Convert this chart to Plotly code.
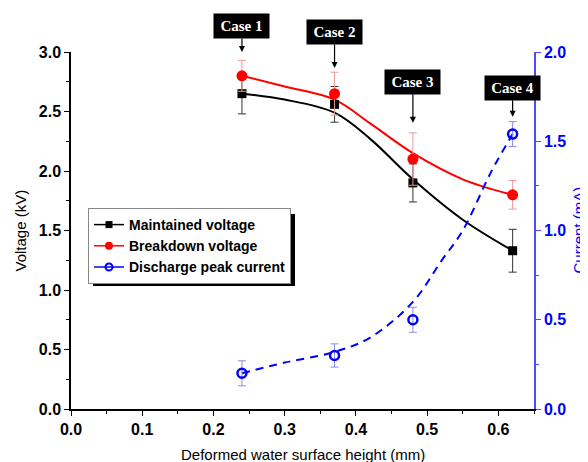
import plotly.graph_objects as go

# ---- data ----
height = [0.24, 0.37, 0.48, 0.62]
maintained = [2.65, 2.56, 1.90, 1.33]
maintained_err = [0.17, 0.15, 0.16, 0.18]
breakdown = [2.80, 2.65, 2.10, 1.80]
breakdown_err = [0.13, 0.18, 0.22, 0.12]
current = [0.20, 0.30, 0.50, 1.54]
current_err = [0.07, 0.065, 0.07, 0.07]

# fitted curves
fit_x = [0.24, 0.30, 0.37, 0.42, 0.48, 0.55, 0.62]
maintained_fit = [2.65, 2.60, 2.49, 2.27, 1.93, 1.59, 1.33]
breakdown_fit = [2.80, 2.71, 2.60, 2.40, 2.15, 1.93, 1.80]
cur_fit_x = [0.24, 0.30, 0.37, 0.42, 0.48, 0.52, 0.55, 0.59, 0.62]
current_fit = [0.20, 0.26, 0.32, 0.40, 0.60, 0.83, 1.00, 1.33, 1.54]

case_labels = ["Case 1", "Case 2", "Case 3", "Case 4"]
case_tip_y = [3.0, 2.866, 2.406, 2.456]
case_offset = [-26, -36, -41, -29]

BLUE = "#0000ff"

fig = go.Figure()

# fit curves
fig.add_trace(go.Scatter(x=fit_x, y=maintained_fit, mode="lines", line=dict(color="black", width=2, shape="spline"),
                         showlegend=False, hoverinfo="skip"))
fig.add_trace(go.Scatter(x=fit_x, y=breakdown_fit, mode="lines", line=dict(color="red", width=2, shape="spline"),
                         showlegend=False, hoverinfo="skip"))
fig.add_trace(go.Scatter(x=cur_fit_x, y=current_fit, mode="lines", yaxis="y2",
                         line=dict(color=BLUE, width=2, shape="spline", dash="8px,6px"),
                         showlegend=False, hoverinfo="skip"))

# data points
fig.add_trace(go.Scatter(x=height, y=maintained, mode="markers",
                         marker=dict(symbol="square", color="black", size=9),
                         error_y=dict(type="data", array=maintained_err, color="#333333", thickness=1, width=4),
                         showlegend=False))
fig.add_trace(go.Scatter(x=height, y=breakdown, mode="markers",
                         marker=dict(symbol="circle", color="red", size=11),
                         error_y=dict(type="data", array=breakdown_err, color="#e89a9a", thickness=1, width=4),
                         showlegend=False))
fig.add_trace(go.Scatter(x=height, y=current, mode="markers", yaxis="y2",
                         marker=dict(symbol="circle-open", color=BLUE, size=9, line=dict(width=2.5, color=BLUE)),
                         error_y=dict(type="data", array=current_err, color="#8a8ae0", thickness=1, width=4),
                         showlegend=False))

# legend entries
fig.add_trace(go.Scatter(x=[None], y=[None], mode="lines+markers", name="Maintained voltage",
                         line=dict(color="black", width=1.5), marker=dict(symbol="square", color="black", size=7)))
fig.add_trace(go.Scatter(x=[None], y=[None], mode="lines+markers", name="Breakdown voltage",
                         line=dict(color="red", width=1.5), marker=dict(symbol="circle", color="red", size=8)))
fig.add_trace(go.Scatter(x=[None], y=[None], mode="lines+markers", name="Discharge peak current", yaxis="y2",
                         line=dict(color=BLUE, width=1.5),
                         marker=dict(symbol="circle-open", color=BLUE, size=7, line=dict(width=2, color=BLUE))))

# the page has an 8px body margin: figure pixel = window pixel - 8
OFF = 8
W, H = 588 - OFF, 462 - OFF
L, R, T, B = 71 - OFF, 54, 52 - OFF, 53
pw, ph = W - L - R, H - T - B


def px(x):
    return (x - OFF - L) / pw


def py(y):
    return (H - B - (y - OFF)) / ph


annotations = []
for lab, hx, ty, off in zip(case_labels, height, case_tip_y, case_offset):
    annotations.append(dict(x=hx, y=ty, xref="x", yref="y", text="<b>" + lab + "</b>",
                            showarrow=True, ax=0, ay=off, arrowhead=2, arrowsize=1, arrowwidth=1.2,
                            arrowcolor="black", bgcolor="black", borderpad=4, width=47,
                            font=dict(family="Liberation Serif", size=15, color="white")))

# axis titles
annotations.append(dict(x=0.5, y=py(454), xref="paper", yref="paper", text="Deformed water surface height (mm)",
                        showarrow=False, xanchor="center", yanchor="middle",
                        font=dict(family="Arial", size=15, color="black")))
annotations.append(dict(x=px(20), y=0.5, xref="paper", yref="paper", text="Voltage (kV)", textangle=-90,
                        showarrow=False, xanchor="center", yanchor="middle",
                        font=dict(family="Arial", size=15, color="black")))
annotations.append(dict(x=px(578), y=0.5, xref="paper", yref="paper", text="Current (mA)", textangle=-90,
                        showarrow=False, xanchor="center", yanchor="middle",
                        font=dict(family="Arial", size=15, color=BLUE)))

# legend shadow
shapes = [dict(type="rect", xref="paper", yref="paper",
               x0=px(93), x1=px(295), y0=py(286), y1=py(214),
               fillcolor="black", line=dict(width=0), layer="above")]

fig.update_layout(
    width=W, height=H,
    margin=dict(l=L, r=R, t=T, b=B),
    paper_bgcolor="white", plot_bgcolor="white",
    font=dict(family="Arial", size=15, color="black"),
    showlegend=True,
    legend=dict(x=px(88), y=py(208), xanchor="left", yanchor="top",
                bgcolor="white", bordercolor="#888888", borderwidth=1,
                font=dict(family="Arial", size=14, color="black", weight="bold"),
                tracegroupgap=0, itemwidth=30),
    xaxis=dict(range=[0, 0.65], dtick=0.1, tickformat=".1f", showgrid=False, zeroline=False, automargin=False,
               showline=True, linecolor="black", linewidth=1.5,
               ticks="outside", ticklen=5, tickwidth=1.2, tickcolor="black",
               minor=dict(dtick=0.05, ticks="outside", ticklen=3, tickcolor="black"),
               tickfont=dict(family="Arial", size=16, color="black", weight="bold")),
    xaxis2=dict(range=[0, 0.65], overlaying="x", side="top", anchor="y", dtick=0.05, automargin=False,
                showticklabels=False, showgrid=False, zeroline=False,
                showline=True, linecolor="black", linewidth=1.5,
                ticks="inside", ticklen=4, tickwidth=1.2, tickcolor="black"),
    yaxis=dict(range=[0, 3.0], dtick=0.5, tickformat=".1f", showgrid=False, zeroline=False, automargin=False,
               showline=True, linecolor="black", linewidth=1.5,
               ticks="outside", ticklen=5, tickwidth=1.2, tickcolor="black",
               minor=dict(dtick=0.25, ticks="outside", ticklen=3, tickcolor="black"),
               tickfont=dict(family="Arial", size=16, color="black", weight="bold")),
    yaxis2=dict(range=[0, 2.0], dtick=0.5, tickformat=".1f", overlaying="y", side="right", anchor="x",
                showgrid=False, zeroline=False, automargin=False,
                showline=True, linecolor="#4a4aff", linewidth=1.5,
                ticks="outside", ticklen=5, tickwidth=1.2, tickcolor="#4a4aff",
                minor=dict(dtick=0.25, ticks="outside", ticklen=3, tickcolor="#4a4aff"),
                tickfont=dict(family="Arial", size=16, color=BLUE, weight="bold")),
    annotations=annotations,
    shapes=shapes,
)

fig.write_html("out.html")
